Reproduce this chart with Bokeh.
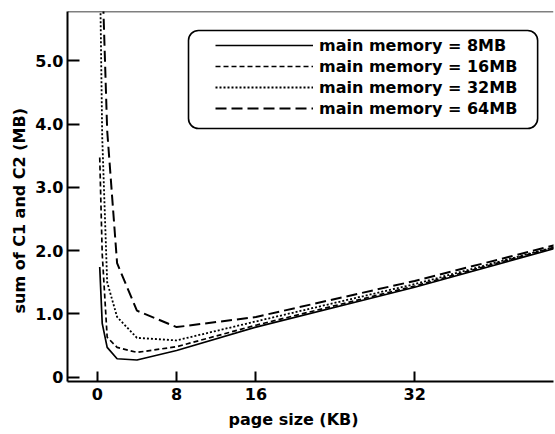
from bokeh.plotting import figure
from bokeh.models import (Range1d, FixedTicker, Span, Legend, LegendItem,
                          BoxAnnotation, Title)
from bokeh.embed import file_html
from bokeh.resources import INLINE

# ---- data ----
page_kb = [0.25, 0.5, 1, 2, 4, 8, 16, 32, 64]
mem_8mb = [1.74, 0.85, 0.47, 0.29, 0.27, 0.42, 0.79, 1.42, 2.81]
mem_16mb = [3.47, 1.95, 0.63, 0.47, 0.39, 0.48, 0.82, 1.44, 2.83]
mem_32mb = [6.7, 3.8, 1.5, 0.95, 0.62, 0.58, 0.88, 1.47, 2.80]
mem_64mb = [13.0, 6.4, 3.9, 1.8, 1.05, 0.79, 0.95, 1.52, 2.80]
series_labels = ["main memory = 8MB", "main memory = 16MB",
                 "main memory = 32MB", "main memory = 64MB"]
x_ticks = [0, 8, 16, 32]
x_tick_labels = ["0", "8", "16", "32"]
y_ticks = [0, 1, 2, 3, 4, 5]
y_tick_labels = ["0", "1.0", "2.0", "3.0", "4.0", "5.0"]
x_title = "page size (KB)"
y_title = "sum of C1 and C2 (MB)"

FONT = "DejaVu Sans"

p = figure(width=555, height=434, output_backend="svg", toolbar_location=None,
           x_range=Range1d(-3.0, 46.0), y_range=Range1d(-0.07, 5.78),
           min_border_left=67, min_border_right=2, min_border_top=11,
           min_border_bottom=53)
p.outline_line_color = None
p.grid.visible = False
p.background_fill_color = "white"
p.border_fill_color = "white"

for ax, ticks, labels in ((p.xaxis[0], x_ticks, x_tick_labels),
                          (p.yaxis[0], y_ticks, y_tick_labels)):
    ax.ticker = FixedTicker(ticks=ticks)
    ax.major_label_overrides = {t: l for t, l in zip(ticks, labels)}
    ax.axis_line_color = "black"
    ax.axis_line_width = 2
    ax.major_tick_line_color = "black"
    ax.major_tick_line_width = 2
    ax.major_tick_out = 0
    ax.minor_tick_line_color = None
    ax.major_label_text_font = FONT
    ax.major_label_text_font_style = "bold"
    ax.major_label_text_font_size = "16px"
    ax.major_label_text_color = "black"

p.xaxis.major_tick_in = 10
p.xaxis.major_label_standoff = 6
p.yaxis.major_tick_in = 12
p.yaxis.major_label_standoff = 4

# top frame line
p.add_layout(Span(location=5.78, dimension="width", line_color="black", line_width=1.5))

r8 = p.line(page_kb, mem_8mb, line_color="black", line_width=1.7)
r16 = p.line(page_kb, mem_16mb, line_color="black", line_width=1.7, line_dash="5 3")
r32 = p.line(page_kb, mem_32mb, line_color="black", line_width=1.8, line_dash="2 2")
r64 = p.line(page_kb, mem_64mb, line_color="black", line_width=2, line_dash="11 5")

# rounded legend frame
box_kw = dict(left=9.2, right=44.4, top=5.48, bottom=3.93,
              fill_alpha=0, line_color="black", line_alpha=1.0, line_width=1.6)
if "border_radius" in BoxAnnotation.properties():
    box_kw["border_radius"] = 10
p.add_layout(BoxAnnotation(**box_kw))

legend = Legend(items=[LegendItem(label=l, renderers=[r]) for l, r in
                       zip(series_labels, [r8, r16, r32, r64])],
                location=(148, 263), glyph_width=98, glyph_height=20,
                label_height=20, label_standoff=6, spacing=1, padding=0,
                margin=0, border_line_color=None, background_fill_alpha=0,
                label_text_font=FONT, label_text_font_style="bold",
                label_text_font_size="16px", label_text_color="black")
p.add_layout(legend)

p.add_layout(Title(text=x_title, align="left", offset=161, text_font=FONT,
                   text_font_style="bold", text_font_size="16px",
                   text_color="black", standoff=10, vertical_align="bottom"), "below")
p.add_layout(Title(text=y_title, align="left", offset=68, text_font=FONT,
                   text_font_style="bold", text_font_size="16px",
                   text_color="black", standoff=8), "left")

open("out.html", "w").write(file_html(p, INLINE))
